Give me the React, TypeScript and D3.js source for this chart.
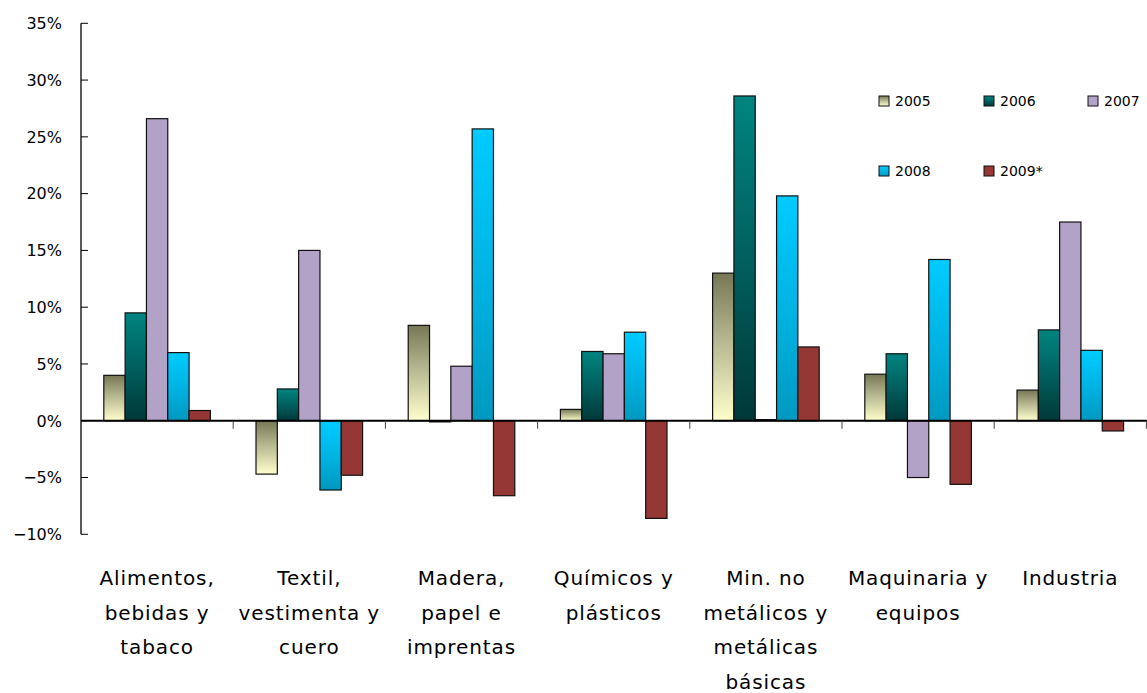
import React from "react";
import * as d3 from "d3";

const categories: string[][] = [
  ["Alimentos,", "bebidas y", "tabaco"],
  ["Textil,", "vestimenta y", "cuero"],
  ["Madera,", "papel e", "imprentas"],
  ["Químicos y", "plásticos"],
  ["Min. no", "metálicos y", "metálicas", "básicas"],
  ["Maquinaria y", "equipos"],
  ["Industria"],
];
const series = ["2005", "2006", "2007", "2008", "2009*"];
const v2005 = [4.0, -4.7, 8.4, 1.0, 13.0, 4.1, 2.7];
const v2006 = [9.5, 2.8, -0.1, 6.1, 28.6, 5.9, 8.0];
const v2007 = [26.6, 15.0, 4.8, 5.9, 0.1, -5.0, 17.5];
const v2008 = [6.0, -6.1, 25.7, 7.8, 19.8, 14.2, 6.2];
const v2009 = [0.9, -4.8, -6.6, -8.6, 6.5, -5.6, -0.9];
const yTicks = [-10, -5, 0, 5, 10, 15, 20, 25, 30, 35];

const values = [v2005, v2006, v2007, v2008, v2009];

// fills: gradient stops (top -> bottom) or solid
const fills: { id: string; stops: string[] }[] = [
  { id: "g2005", stops: ["#777755", "#bdbd96", "#ffffcc"] },
  { id: "g2006", stops: ["#008480", "#00605e", "#003838"] },
  { id: "g2007", stops: ["#b3a2c8", "#b3a2c8"] },
  { id: "g2008", stops: ["#00ccff", "#00b4e4", "#0099c0"] },
  { id: "g2009", stops: ["#953735", "#953735"] },
];

const W = 1147;
const H = 693;
const left = 81;
const catW = 152.2;
const font = "'DejaVu Sans', Verdana, sans-serif";

export default function App() {
  const idx = categories.map((_, i) => String(i));
  const x = d3.scaleBand<string>().domain(idx).range([left, left + catW * categories.length]);
  const xs = d3.scaleBand<string>().domain(series).range([0, x.bandwidth()]).paddingInner(0).paddingOuter(1.07);
  const y = d3.scaleLinear().domain([-10, 35]).range([534.3, 23.3]);
  const y0 = y(0);

  return (
    <svg width={W} height={H} style={{ position: "absolute", left: 0, top: 0, background: "#fff" }}>
      <defs>
        {fills.map((f) => (
          <linearGradient key={f.id} id={f.id} x1="0" y1="0" x2="0" y2="1">
            {f.stops.map((c, i) => (
              <stop key={i} offset={i / (f.stops.length - 1)} stopColor={c} />
            ))}
          </linearGradient>
        ))}
      </defs>
      {/* y axis */}
      <line x1={left} x2={left} y1={y(35)} y2={y(-10)} stroke="#000" strokeWidth={1.3} />
      {yTicks.map((t) => (
        <g key={t}>
          <line x1={left} x2={left + 7} y1={y(t)} y2={y(t)} stroke="#000" strokeWidth={1} />
          <text
            x={62}
            y={y(t)}
            dy="0.36em"
            textAnchor="end"
            fontFamily={font}
            fontSize={16}
            fill="#000"
          >
            {(t < 0 ? "\u2212" + Math.abs(t) : String(t)) + "%"}
          </text>
        </g>
      ))}
      {/* bars */}
      {series.map((s, si) =>
        values[si].map((v, ci) => {
          const bx = (x(String(ci)) as number) + (xs(s) as number);
          const top = y(Math.max(0, v));
          const bot = y(Math.min(0, v));
          return (
            <rect
              key={s + ci}
              x={bx}
              y={top}
              width={xs.bandwidth()}
              height={Math.max(0.8, bot - top)}
              fill={`url(#${fills[si].id})`}
              stroke="#111"
              strokeWidth={1.2}
            />
          );
        })
      )}
      {/* x axis baseline */}
      <line x1={left} x2={W} y1={y0} y2={y0} stroke="#000" strokeWidth={2.2} />
      {d3.range(1, categories.length + 1).map((i) => (
        <line
          key={i}
          x1={left + i * catW}
          x2={left + i * catW}
          y1={y0}
          y2={y0 + 8}
          stroke="#444"
          strokeWidth={1}
        />
      ))}
      {/* category labels */}
      {categories.map((lines, ci) => (
        <text
          key={ci}
          x={(x(String(ci)) as number) + x.bandwidth() / 2}
          y={585}
          textAnchor="middle"
          fontFamily={font}
          fontSize={20}
          letterSpacing={0.9}
          fill="#000"
        >
          {lines.map((l, li) => (
            <tspan key={li} x={(x(String(ci)) as number) + x.bandwidth() / 2} dy={li === 0 ? 0 : 34.5}>
              {l}
            </tspan>
          ))}
        </text>
      ))}
      {/* legend */}
      {series.map((s, si) => {
        const col = si % 3;
        const row = Math.floor(si / 3);
        const lx = [879, 984, 1088][col];
        const ly = [96, 166][row];
        return (
          <g key={s}>
            <rect x={lx} y={ly} width={10} height={10} fill={`url(#${fills[si].id})`} stroke="#111" strokeWidth={1} />
            <text x={lx + 16} y={ly + 10} fontFamily={font} fontSize={14} fill="#000">
              {s}
            </text>
          </g>
        );
      })}
    </svg>
  );
}
